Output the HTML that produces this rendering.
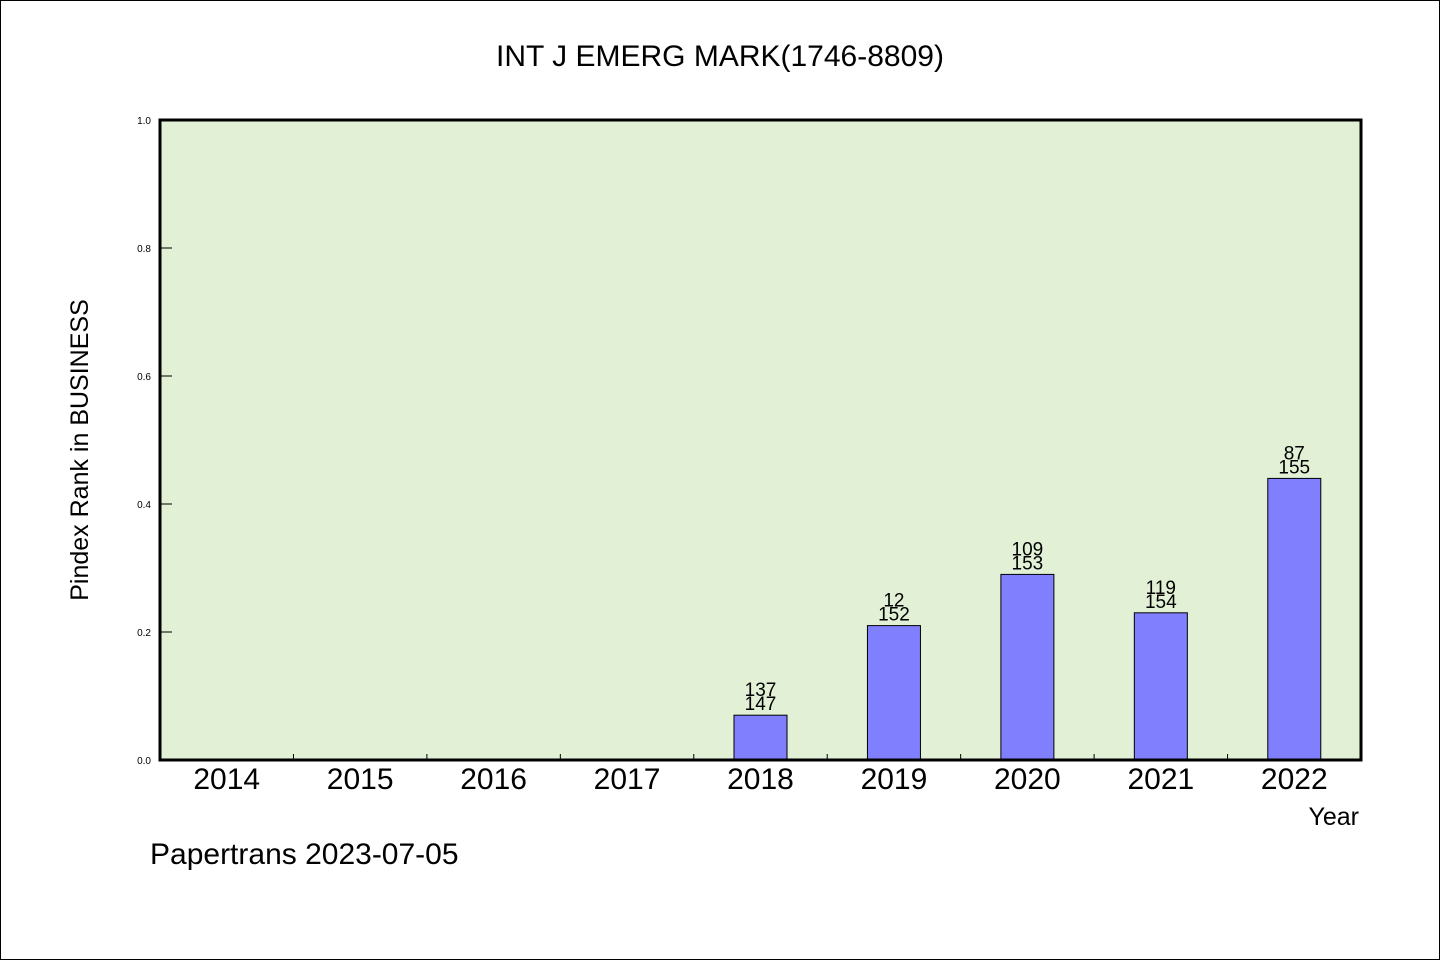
<!DOCTYPE html>
<html><head><meta charset="utf-8"><style>
html,body{margin:0;padding:0;background:#fff}
svg{display:block}
text{font-family:"WenQuanYi Zen Hei","Liberation Sans",sans-serif;fill:#000}
</style></head><body>
<svg id="chart" width="1440" height="960">
<rect x="0.5" y="0.5" width="1439" height="959" fill="#fff" stroke="#000"/>
<text x="720" y="66" font-size="30" text-anchor="middle">INT J EMERG MARK(1746-8809)</text>
<rect x="160" y="120" width="1201" height="640" fill="#e2f0d6"/>
<g id="ticks"></g>
<g id="bars"></g>
<rect x="160" y="120" width="1201" height="640" fill="none" stroke="#000" stroke-width="3"/>
<text transform="translate(88,450) rotate(-90)" font-size="25" text-anchor="middle">Pindex Rank in BUSINESS</text>
<text x="1359" y="825" font-size="25" text-anchor="end">Year</text>
<text x="150" y="864" font-size="30">Papertrans 2023-07-05</text>
</svg>
<script>
const categories=["2014","2015","2016","2017","2018","2019","2020","2021","2022"];
const values=[0,0,0,0,0.07,0.21,0.29,0.23,0.44];
const rankLabels=["","","","","137","12","109","119","87"];
const totalLabels=["","","","","147","152","153","154","155"];
const yTicks=[0,0.2,0.4,0.6,0.8,1.0];
const NS="http://www.w3.org/2000/svg";
const x0=160,x1=1361,y0=760,y1=120;
const bw=(x1-x0)/categories.length;
const ys=v=>y0-(v)*(y0-y1);
const xs=i=>x0+bw*(i+0.5);
function mk(tag,attrs,parent){const e=document.createElementNS(NS,tag);for(const k in attrs)e.setAttribute(k,attrs[k]);parent.appendChild(e);return e;}
const tg=document.getElementById('ticks'),bg=document.getElementById('bars');
yTicks.forEach(t=>{
 const l=mk('line',{x1:x0,x2:x0+12,y1:ys(t),y2:ys(t),stroke:'#000','stroke-width':1},tg);
 
 
 const tx=mk('text',{x:151,y:ys(t)+4,'font-size':10,'text-anchor':'end'},tg);
 tx.textContent=t.toFixed(1);
 
 
});
categories.forEach((c,i)=>{
 if(i>0){const l=mk('line',{x1:x0+bw*i,x2:x0+bw*i,y1:y0,y2:y0-6,stroke:'#000','stroke-width':1},tg);
 
 }
 const tx=mk('text',{x:xs(i),y:789,'font-size':30,'text-anchor':'middle'},tg);
 tx.textContent=c;
 
 
 if(values[i]>0){
  const r=mk('rect',{x:xs(i)-26.5,y:ys(values[i]),width:53,height:y0-ys(values[i]),fill:'#8080ff',stroke:'#000','stroke-width':1},bg);
  
  
  const a=mk('text',{x:xs(i),y:ys(values[i])-19,'font-size':19,'text-anchor':'middle'},bg);
  a.textContent=rankLabels[i];
  
  
  const b=mk('text',{x:xs(i),y:ys(values[i])-5,'font-size':19,'text-anchor':'middle'},bg);
  b.textContent=totalLabels[i];
  
  
 }
});
</script>
</body></html>
